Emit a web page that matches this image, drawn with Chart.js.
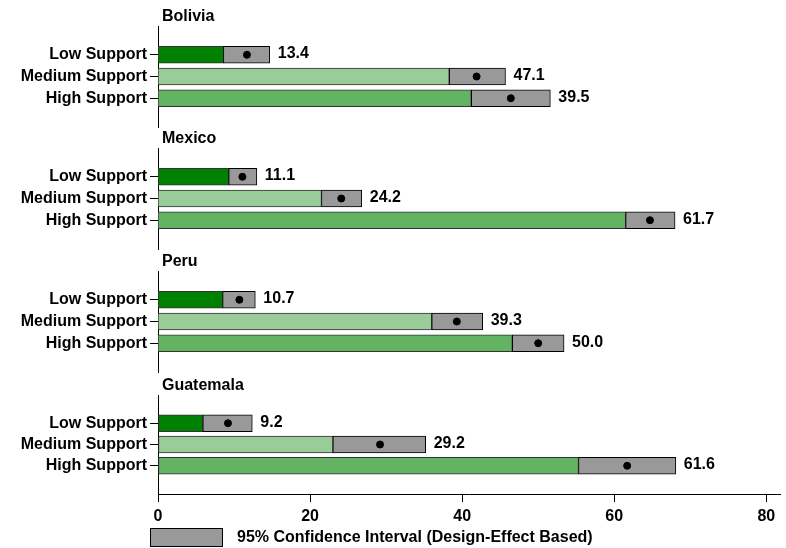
<!DOCTYPE html>
<html>
<head>
<meta charset="utf-8">
<script src="https://cdn.jsdelivr.net/npm/chart.js@4.4.1/dist/chart.umd.min.js"></script>
<style>
  body { margin: 0; background: #fff; }
  #wrap { position: relative; width: 786px; height: 548px; overflow: hidden; }
  .panel { position: absolute; left: 0; width: 786px; }
</style>
</head>
<body>
<div id="wrap">
  <div class="panel" style="top:1px;height:131px"><canvas id="c0"></canvas></div>
  <div class="panel" style="top:123px;height:131px"><canvas id="c1"></canvas></div>
  <div class="panel" style="top:246px;height:131px"><canvas id="c2"></canvas></div>
  <div class="panel" style="top:370px;height:178px"><canvas id="c3"></canvas></div>
</div>
<script>
// data
const countries = ['Bolivia', 'Mexico', 'Peru', 'Guatemala'];
const supportLevels = ['Low Support', 'Medium Support', 'High Support'];
const lowerBounds = [
    [8.6, 38.3, 41.2],
    [9.3, 21.5, 61.5],
    [8.5, 36.0, 46.6],
    [5.9, 23.0, 55.3]
];
const upperBounds = [
    [14.7, 45.7, 51.6],
    [13.0, 26.8, 68.0],
    [12.8, 42.7, 53.4],
    [12.4, 35.2, 68.1]
];
const pointEstimates = [
    [11.7, 41.9, 46.4],
    [11.1, 24.1, 64.7],
    [10.7, 39.3, 50.0],
    [9.2, 29.2, 61.7]
];
const valueLabels = [
    ['13.4', '47.1', '39.5'],
    ['11.1', '24.2', '61.7'],
    ['10.7', '39.3', '50.0'],
    ['9.2', '29.2', '61.6']
];
const xTicks = [0, 20, 40, 60, 80];
const legendText = '95% Confidence Interval (Design-Effect Based)';

const barColors = ['#008000', '#99cc99', '#63b363'];
const ciColor = '#999999';
const FONT = { family: 'Liberation Sans, Arial, sans-serif', size: 16, weight: 'bold' };

// country title + value labels after the CI boxes (+ legend on the last panel)
const annotatePlugin = {
    id: 'annotate',
    afterDatasetsDraw(chart, args, opts) {
        const ctx = chart.ctx;
        const area = chart.chartArea;
        ctx.save();
        ctx.font = 'bold 16px ' + FONT.family;
        ctx.fillStyle = '#000';
        ctx.textBaseline = 'middle';
        ctx.textAlign = 'left';
        ctx.fillText(opts.title, area.left + 4, area.top - 9);
        const ciMeta = chart.getDatasetMeta(1);
        ciMeta.data.forEach((bar, i) => {
            const right = Math.max(bar.x, bar.base);
            ctx.fillText(opts.labels[i], right + 8, bar.y - 1);
        });
        if (opts.legend) {
            const x0 = 150, y0 = area.bottom + 34, w = 73, h = 19;
            ctx.fillStyle = ciColor;
            ctx.fillRect(x0, y0, w, h);
            ctx.strokeStyle = '#000';
            ctx.lineWidth = 1;
            ctx.strokeRect(x0 + 0.5, y0 + 0.5, w - 1, h - 1);
            ctx.fillStyle = '#000';
            ctx.fillText(legendText, 237, y0 + h / 2);
        }
        ctx.restore();
    }
};

function buildPanel(k) {
    const isBottom = k === countries.length - 1;
    const idx = supportLevels.map((_, i) => i);
    new Chart(document.getElementById('c' + k), {
        type: 'bar',
        data: {
            datasets: [{
                label: 'Estimate base',
                data: idx.map(i => ({ y: i, x: lowerBounds[k][i] })),
                backgroundColor: barColors,
                borderColor: '#333333',
                borderWidth: 1,
                borderSkipped: false,
                barThickness: 17,
                grouped: false,
                order: 3
            }, {
                label: legendText,
                data: idx.map(i => ({ y: i, x: [lowerBounds[k][i], upperBounds[k][i]] })),
                backgroundColor: ciColor,
                borderColor: '#000000',
                borderWidth: 1,
                borderSkipped: false,
                barThickness: 17,
                grouped: false,
                order: 2
            }, {
                type: 'scatter',
                label: 'Point estimate',
                data: idx.map(i => ({ y: i, x: pointEstimates[k][i] })),
                backgroundColor: '#000',
                borderColor: '#000',
                pointRadius: 3.5,
                order: 1
            }]
        },
        options: {
            indexAxis: 'y',
            responsive: true,
            maintainAspectRatio: false,
            animation: false,
            layout: { padding: { top: 25, right: 6, left: 0, bottom: 0 } },
            plugins: {
                legend: { display: false },
                tooltip: { enabled: false },
                annotate: { title: countries[k], labels: valueLabels[k], legend: isBottom }
            },
            scales: {
                x: {
                    type: 'linear',
                    display: isBottom,
                    min: 0,
                    max: 81.8,
                    afterBuildTicks: s => { s.ticks = xTicks.map(v => ({ value: v })); },
                    afterFit: s => {
                        if (isBottom) s.height = 54;
                        s.paddingLeft = 0; s.paddingRight = 0;
                    },
                    grid: { drawOnChartArea: false, drawTicks: true, tickLength: 8, color: '#000' },
                    border: { color: '#000', width: 1 },
                    ticks: { color: '#000', font: FONT, padding: 5, maxRotation: 0 }
                },
                y: {
                    type: 'linear',
                    reverse: true,
                    offset: false,
                    min: -1.326,
                    max: 3.326,
                    afterBuildTicks: s => { s.ticks = idx.map(v => ({ value: v })); },
                    afterFit: s => {
                        s.width = 158;
                        s.paddingTop = 0; s.paddingBottom = 0;
                    },
                    grid: { offset: false, drawOnChartArea: false, drawTicks: true, tickLength: 8, color: '#000' },
                    border: { color: '#000', width: 1 },
                    ticks: {
                        color: '#000',
                        font: FONT,
                        padding: 3,
                        callback: v => supportLevels[v]
                    }
                }
            }
        },
        plugins: [annotatePlugin]
    });
}

countries.forEach((_, k) => buildPanel(k));
</script>
</body>
</html>
